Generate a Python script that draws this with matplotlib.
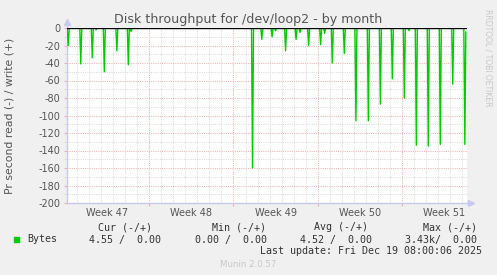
import matplotlib
matplotlib.use('Agg')
import matplotlib.pyplot as plt
import matplotlib.dates as mdates
from matplotlib.ticker import MultipleLocator, NullFormatter
import pandas as pd

# read spikes (Bytes per second, negative = read), from the munin month graph
spike_times = ['2025-11-16 06:00', '2025-11-17 07:00', '2025-11-18 06:00', '2025-11-18 13:30',
               '2025-11-19 06:00', '2025-11-20 07:00', '2025-11-21 06:00', '2025-11-21 11:30',
               '2025-12-01 14:00', '2025-12-02 08:30', '2025-12-03 05:00', '2025-12-03 12:00',
               '2025-12-04 08:00', '2025-12-05 05:00', '2025-12-05 13:00', '2025-12-06 06:00',
               '2025-12-07 06:00', '2025-12-07 14:00', '2025-12-08 05:20', '2025-12-09 05:20',
               '2025-12-10 04:30', '2025-12-11 05:20', '2025-12-12 05:20', '2025-12-13 05:10',
               '2025-12-14 05:10', '2025-12-14 14:30', '2025-12-15 05:10', '2025-12-16 05:00',
               '2025-12-17 05:00', '2025-12-18 05:50', '2025-12-19 06:00']
spike_reads = [-20, -41, -34, -2, -50, -26, -42, -4,
               -160, -13, -10, -3, -26, -13, -5, -20,
               -19, -6, -40, -29, -106, -106, -87, -58,
               -80, -3, -134, -135, -133, -64, -133]
last_time = '2025-12-19 08:00'
last_read = -4.55

week_starts = ['2025-11-16', '2025-11-23', '2025-11-30', '2025-12-07', '2025-12-14']
x_start = '2025-11-16 03:30'
x_end = '2025-12-19 10:20'

legend_cols = ['Cur (-/+)', 'Min (-/+)', 'Avg (-/+)', 'Max (-/+)']
legend_vals = ['4.55 /  0.00', '0.00 /  0.00', '4.52 /  0.00', '3.43k/  0.00']

W, H = 497, 275
step = pd.Timedelta(hours=2)


def fx(x):
    return x / W


def fy(y):
    return 1 - y / H


# build the 2-hourly line: zero readings around each spike
times = []
reads = []
for t, v in zip(pd.to_datetime(spike_times), spike_reads):
    times += [t - step, t, t + step]
    reads += [0, v, 0]
times[-1] = pd.Timestamp(last_time)
reads[-1] = last_read

plt.rcParams['font.family'] = 'DejaVu Sans'
plt.rcParams['axes.unicode_minus'] = False

fig = plt.figure(figsize=(W / 100, H / 100), dpi=100, facecolor='#F0F0F0')
ax = fig.add_axes([fx(67), fy(203), 400 / W, 175 / H])
ax.set_facecolor('white')

ax.plot(times, reads, color='#00CC00', lw=1.0, zorder=3)
ax.axhline(0, color='black', lw=1.0, zorder=4)

ax.set_xlim(pd.Timestamp(x_start), pd.Timestamp(x_end))
ax.set_ylim(-200, 0)

# grid
ax.yaxis.set_major_locator(MultipleLocator(20))
ax.yaxis.set_minor_locator(MultipleLocator(10))
ax.xaxis.set_major_locator(mdates.WeekdayLocator(byweekday=mdates.SU))
ax.xaxis.set_minor_locator(mdates.DayLocator())
ax.xaxis.set_major_formatter(NullFormatter())
ax.set_axisbelow(True)
ax.grid(which='minor', color='#DADADA', lw=0.72, ls=(0, (1, 1.2)))
ax.grid(which='major', color='#EDB0B0', lw=0.72, ls=(0, (1, 1.2)))
ax.tick_params(which='major', length=2, color='#EDB0B0', labelsize=7, labelcolor='#555555', pad=3)
ax.tick_params(which='minor', length=2, color='#DADADA')
ax.tick_params(axis='x', which='minor', length=0)

for s in ['top', 'right']:
    ax.spines[s].set_visible(False)
for s in ['left', 'bottom']:
    ax.spines[s].set_color('#C8C8F0')
    ax.spines[s].set_linewidth(1)

# axis arrows
ax.plot([0, 0], [1, 1.03], transform=ax.transAxes, color='#C8C8F0', lw=1, clip_on=False)
ax.plot([0], [1.035], marker='^', ms=4, color='#C8C8F0', transform=ax.transAxes, clip_on=False)
ax.plot([1, 1.008], [0, 0], transform=ax.transAxes, color='#C8C8F0', lw=1, clip_on=False)
ax.plot([1.01], [0], marker='>', ms=4, color='#C8C8F0', transform=ax.transAxes, clip_on=False)

# week labels in the middle of each week
for ws in pd.to_datetime(week_starts):
    mid = ws + pd.Timedelta(days=3.5)
    ax.text(mid, -0.03, mid.strftime('Week %V'), transform=ax.get_xaxis_transform(),
            ha='center', va='top', fontsize=7, color='#555555')

fig.text(fx(248.5), fy(19), 'Disk throughput for /dev/loop2 - by month',
         ha='center', va='center', fontsize=9.1, color='#555555')
fig.text(fx(10), fy(116), 'Pr second read (-) / write (+)', rotation=90,
         ha='center', va='center', fontsize=7.8, color='#555555')
fig.text(fx(488), fy(58), 'RRDTOOL / TOBI OETIKER', rotation=270,
         ha='center', va='center', fontsize=5.5, color='#C8C8C8')

# legend
mono = 'DejaVu Sans Mono'
fig.patches.append(plt.Rectangle((fx(14), fy(242)), 5 / W, 5 / H, transform=fig.transFigure,
                                 color='#00CC00', figure=fig))
fig.text(fx(27), fy(239.5), 'Bytes', family=mono, fontsize=7.2, color='#333333', va='center')
col_right = [152, 266, 368, 477]
val_right = [161, 267, 372, 477]
for name, val, cr, vr in zip(legend_cols, legend_vals, col_right, val_right):
    fig.text(fx(cr), fy(227.5), name, family=mono, fontsize=7.2, color='#333333',
             ha='right', va='center')
    fig.text(fx(vr), fy(239.5), val, family=mono, fontsize=7.2, color='#333333',
             ha='right', va='center')
fig.text(fx(482), fy(251.5), 'Last update: Fri Dec 19 08:00:06 2025', family=mono,
         fontsize=7.2, color='#333333', ha='right', va='center')
fig.text(fx(248), fy(264.5), 'Munin 2.0.57', fontsize=6.2, color='#C8C8C8',
         ha='center', va='center')

fig.savefig('out.png', dpi=100, facecolor=fig.get_facecolor())
